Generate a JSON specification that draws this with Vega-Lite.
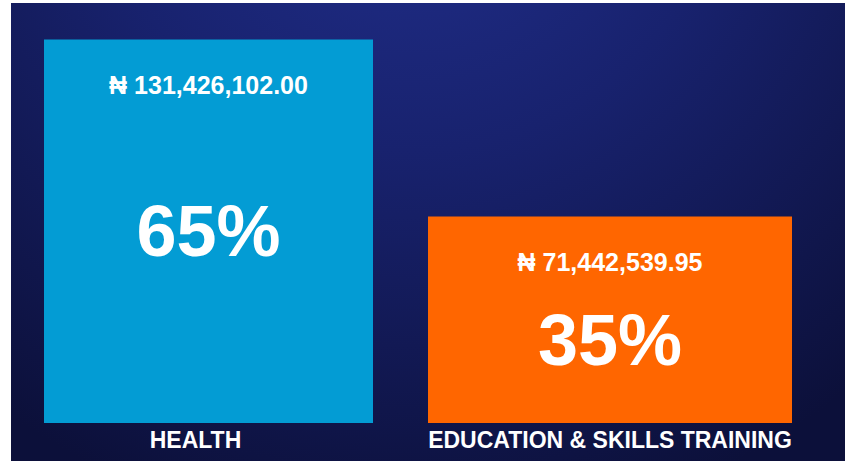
{
  "$schema": "https://vega.github.io/schema/vega-lite/v6.json",
  "autosize": {"type": "fit", "contains": "padding"},
  "width": 845,
  "height": 466,
  "padding": {"left": 11, "top": 3, "right": 0, "bottom": 5},
  "background": "#ffffff",
  "config": {
    "view": {
      "stroke": null,
      "fill": {
        "gradient": "radial",
        "x1": 0.48, "y1": 0.02, "r1": 0,
        "x2": 0.48, "y2": 0.02, "r2": 0.85,
        "stops": [
          {"offset": 0, "color": "#22308f"},
          {"offset": 0.45, "color": "#18226e"},
          {"offset": 1, "color": "#0c103a"}
        ]
      }
    },
    "font": "Liberation Sans"
  },
  "data": {
    "values": [
      {"category": "HEALTH", "share": 0.65, "amount": 131426102.00},
      {"category": "EDUCATION & SKILLS TRAINING", "share": 0.35, "amount": 71442539.95}
    ]
  },
  "transform": [
    {"calculate": "'₦ ' + format(datum.amount, ',.2f')", "as": "amount_label"}
  ],
  "encoding": {
    "x": {
      "field": "category",
      "type": "nominal",
      "sort": null,
      "scale": {"range": [-3.25, 799.75], "paddingInner": 0, "paddingOuter": 0},
      "axis": {
        "title": null,
        "orient": "bottom",
        "offset": -38,
        "domain": false,
        "ticks": false,
        "labelAngle": 0,
        "labelColor": "#ffffff",
        "labelFont": "Liberation Sans",
        "labelFontWeight": "bold",
        "labelFontSize": 23,
        "labelLimit": 0,
        "labelBaseline": "alphabetic",
        "labelPadding": 24,
        "labelOffset": {"condition": {"test": "datum.value === 'HEALTH'", "value": -13}, "value": 0},
        "grid": false
      }
    },
    "y": {
      "field": "share",
      "type": "quantitative",
      "scale": {"domain": [-0.0644, 0.7119], "nice": false, "zero": false},
      "axis": null
    }
  },
  "layer": [
    {
      "transform": [{"filter": "datum.category === 'HEALTH'"}],
      "mark": {"type": "bar", "width": 329, "color": "#039cd4"},
      "encoding": {"y2": {"datum": 0}}
    },
    {
      "transform": [{"filter": "datum.category !== 'HEALTH'"}],
      "mark": {"type": "bar", "width": 364, "color": "#ff6600"},
      "encoding": {"y2": {"datum": 0}}
    },
    {
      "mark": {"type": "text", "color": "#ffffff", "fontWeight": "bold", "fontSize": 25, "baseline": "alphabetic", "align": "center", "dy": 54},
      "encoding": {"text": {"field": "amount_label"}}
    },
    {
      "transform": [{"filter": "datum.category === 'HEALTH'"}],
      "mark": {"type": "text", "color": "#ffffff", "fontWeight": "bold", "fontSize": 72, "baseline": "alphabetic", "align": "center", "dy": 216},
      "encoding": {"text": {"field": "share", "format": ".0%"}}
    },
    {
      "transform": [{"filter": "datum.category !== 'HEALTH'"}],
      "mark": {"type": "text", "color": "#ffffff", "fontWeight": "bold", "fontSize": 72, "baseline": "alphabetic", "align": "center", "dy": 148},
      "encoding": {"text": {"field": "share", "format": ".0%"}}
    }
  ]
}
